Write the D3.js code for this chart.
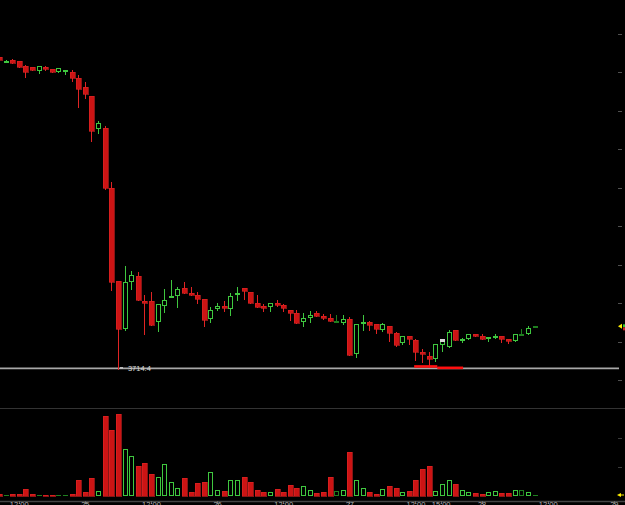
<!DOCTYPE html>
<html><head><meta charset="utf-8">
<script src="https://cdn.jsdelivr.net/npm/d3@7"></script>
<style>html,body{margin:0;padding:0;background:#000;overflow:hidden}</style>
</head><body>
<svg id="c" width="625" height="505" style="display:block;background:#000"></svg>
<script>
// ---- data (index 0..81, one entry per candle) ----
const opens  = [4119.5,4113.4,4116.0,4114.3,4108.2,4106.5,4100.9,4106.9,4103.9,4100.4,4102.3,4100.0,4092.2,4080.9,4068.8,4026.0,4027.7,3949.7,3828.6,3766.2,3826.9,3835.5,3803.0,3802.6,3775.7,3796.5,3808.1,3809.5,3819.5,3813.0,3810.4,3805.2,3779.6,3791.8,3795.7,3791.8,3810.8,3819.5,3814.3,3800.4,3795.5,3794.4,3800.4,3797.8,3790.9,3787.4,3775.7,3780.5,3786.6,3782.5,3780.9,3776.6,3773.6,3779.2,3733.8,3774.4,3775.7,3772.7,3764.5,3770.1,3761.4,3747.7,3757.1,3751.9,3736.8,3731.6,3727.7,3745.5,3743.2,3764.9,3752.1,3753.6,3759.7,3757.5,3755.2,3756.9,3757.1,3753.5,3751.0,3759.5,3759.7,3769.7];
const highs  = [4120.8,4115.2,4117.3,4114.6,4108.5,4107.0,4108.2,4107.2,4104.2,4105.2,4103.2,4102.6,4096.1,4087.0,4069.2,4036.4,4029.9,3957.5,3829.0,3848.7,3841.8,3840.6,3810.4,3814.3,3798.5,3818.2,3830.3,3821.2,3827.3,3821.2,3814.7,3805.6,3795.2,3800.0,3802.6,3813.0,3820.4,3820.0,3814.7,3810.1,3798.3,3800.4,3803.9,3798.2,3791.3,3790.9,3787.4,3790.0,3790.0,3785.3,3785.3,3784.4,3784.0,3781.8,3772.7,3784.4,3776.0,3773.0,3774.4,3770.5,3761.8,3757.5,3757.5,3753.6,3739.9,3736.8,3747.2,3753.6,3764.9,3765.3,3754.9,3760.0,3760.0,3760.1,3756.0,3760.1,3757.5,3753.8,3760.0,3766.6,3770.1,3770.0];
const lows   = [4114.9,4113.0,4111.5,4106.0,4093.1,4102.6,4098.7,4103.2,4100.0,4100.0,4097.8,4088.7,4054.9,4065.8,4010.8,4020.4,3948.1,3816.9,3714.4,3765.3,3818.6,3803.5,3759.7,3771.0,3764.0,3787.9,3807.5,3795.2,3812.6,3810.4,3800.4,3770.5,3775.7,3791.4,3790.0,3784.4,3803.9,3805.2,3800.0,3794.8,3789.2,3790.0,3796.6,3790.0,3777.9,3774.0,3770.1,3775.7,3782.7,3779.2,3776.2,3776.0,3773.2,3732.5,3730.3,3764.9,3764.9,3761.4,3764.1,3751.0,3744.2,3747.3,3746.8,3726.0,3723.8,3717.3,3725.1,3737.7,3742.8,3751.5,3749.7,3753.2,3756.8,3753.2,3751.0,3754.9,3749.7,3748.4,3750.6,3758.4,3759.3,3769.4];
const closes = [4115.6,4113.8,4111.7,4106.5,4100.4,4103.0,4107.8,4103.5,4100.4,4104.8,4102.8,4092.2,4077.9,4071.4,4023.8,4034.2,3949.0,3827.7,3766.2,3827.7,3836.0,3803.9,3802.6,3771.4,3798.1,3803.9,3808.7,3818.2,3813.0,3810.8,3804.8,3777.9,3790.9,3796.1,3795.2,3809.1,3812.6,3815.2,3800.4,3795.2,3795.0,3800.0,3797.0,3793.5,3786.6,3774.4,3780.9,3784.8,3783.1,3782.0,3776.6,3776.6,3779.2,3732.9,3772.3,3774.9,3771.4,3766.2,3772.3,3761.4,3745.5,3757.1,3752.9,3736.8,3733.8,3727.3,3746.8,3753.2,3762.7,3751.9,3752.6,3759.7,3757.1,3753.6,3755.7,3757.4,3753.2,3753.0,3759.7,3759.5,3767.5,3769.7];
const volumes = [69,34,52,79,241,69,34,34,34,34,34,79,552,138,621,172,2759,2276,2828,1621,1379,1034,1138,759,655,1103,483,276,621,155,448,483,828,190,172,552,552,655,483,207,138,138,241,138,379,276,345,217,103,138,655,172,207,1517,552,276,138,69,241,345,276,138,172,552,931,1034,172,414,552,414,207,138,103,69,128,172,103,103,207,217,138,34];
const priceTicks = [3700,3750,3800,3850,3900,3950,4000,4050,4100,4150];
const volumeTicks = [1000,2000];
const timeTickIndex = [3,13,23,33,43,53,63,66.8,73,83,93];
const timeLabels = ["12:00","25","12:00","26","12:00","27","12:00","15:00","28","12:00","29"];
const lowPrice = 3714.4;
const lowIndex = 18;
const markIndex = 67;
const zoneA = {from:62.8, to:66.3, price:3717.6};
const zoneB = {from:66.3, to:70.2, price:3715.8};

// ---- drawing ----
const svg = d3.select('#c');
const x = d3.scaleLinear().domain([1, 81]).range([5.5, 534.5]);
const y = d3.scaleLinear().domain([3700, 4150]).range([380, 33.5]);
const yv = d3.scaleLinear().domain([0, 3000]).range([496, 409]);

const RED = '#cc1414', RED_S = '#e02424', GREEN = '#3fc73f', DKGREEN = '#1f7f1f';
const data = opens.map((o,i)=>({i, o, h:highs[i], l:lows[i], c:closes[i], v:volumes[i]}));
const kind = d => d.c > d.o ? 'up' : (d.c < d.o ? 'down' : 'flat');
const col = d => kind(d)==='down' ? RED_S : (kind(d)==='up' ? GREEN : DKGREEN);

// panel lines
svg.append('line').attr('x1',0).attr('x2',625).attr('y1',408.5).attr('y2',408.5).attr('stroke','#333').attr('stroke-width',1);
svg.append('line').attr('x1',0).attr('x2',625).attr('y1',501.5).attr('y2',501.5).attr('stroke','#454545').attr('stroke-width',1.5);

// right price axis: tick marks only (labels lie beyond the window in the original)
const ay = svg.append('g').attr('transform','translate(618,0)')
  .call(d3.axisRight(y).tickValues(priceTicks).tickSize(4).tickFormat(''));
ay.select('.domain').remove();
ay.selectAll('line').attr('stroke','#505050').attr('shape-rendering','crispEdges');
const av = svg.append('g').attr('transform','translate(618,0)')
  .call(d3.axisRight(yv).tickValues(volumeTicks).tickSize(4).tickFormat(''));
av.select('.domain').remove();
av.selectAll('line').attr('stroke','#3a3a3a').attr('shape-rendering','crispEdges');

// bottom time axis
const ax = svg.append('g').attr('transform','translate(0,501)')
  .call(d3.axisBottom(x).tickValues(timeTickIndex).tickFormat((d,i)=>timeLabels[i]).tickSizeInner(3).tickSizeOuter(0).tickPadding(-2));
ax.select('.domain').remove();
ax.selectAll('line').attr('stroke','#666').attr('shape-rendering','crispEdges');
ax.selectAll('text').attr('fill','#b0b0b0').style('font','7.5px "Liberation Sans",Arial');

// low line
svg.append('line').attr('x1',0).attr('x2',619).attr('y1',y(lowPrice)-0.5).attr('y2',y(lowPrice)-0.5)
  .attr('stroke','#a8a8a8').attr('stroke-width',1.6);

const g = svg.append('g').attr('shape-rendering','crispEdges');
const cx = d => Math.round(x(d.i));

// wicks
g.selectAll('line.wick').data(data).join('line').attr('class','wick')
  .attr('x1',d=>cx(d)+0.5).attr('x2',d=>cx(d)+0.5)
  .attr('y1',d=>Math.round(y(d.h))).attr('y2',d=>Math.round(y(d.l))+1)
  .attr('stroke',d=>col(d)).attr('stroke-width',1);

// bodies
data.forEach(d=>{
  const t = Math.round(y(Math.max(d.o,d.c)));
  let b = Math.round(y(Math.min(d.o,d.c)));
  if (b - t < 1) b = t + 1;
  const h = b - t;
  const k = kind(d);
  if (k==='down') {
    g.append('rect').attr('x',cx(d)-2).attr('y',t).attr('width',5).attr('height',Math.max(h,2))
      .attr('fill',RED).attr('stroke',RED_S).attr('stroke-width',0.6);
  } else if (h >= 3) {
    g.append('rect').attr('x',cx(d)-1.5).attr('y',t+0.5).attr('width',4).attr('height',h-1)
      .attr('fill','#000').attr('stroke',col(d)).attr('stroke-width',1);
  } else {
    g.append('rect').attr('x',cx(d)-2).attr('y',t).attr('width',5).attr('height',Math.max(h,1.5))
      .attr('fill',col(d));
  }
});

// volume bars
data.forEach(d=>{
  const t = Math.round(yv(d.v));
  const h = Math.max(496 - t, 1);
  const k = kind(d);
  if (k==='down') {
    g.append('rect').attr('x',cx(d)-2).attr('y',496-h).attr('width',5).attr('height',h)
      .attr('fill',RED).attr('stroke',RED_S).attr('stroke-width',0.6);
  } else if (h >= 3) {
    g.append('rect').attr('x',cx(d)-1.5).attr('y',496-h+0.5).attr('width',4).attr('height',h-1)
      .attr('fill','#000').attr('stroke',col(d)).attr('stroke-width',1);
  } else {
    g.append('rect').attr('x',cx(d)-2).attr('y',496-h).attr('width',5).attr('height',h).attr('fill',DKGREEN);
  }
});

// marker on candle
const md = data[markIndex];
g.append('rect').attr('x',cx(md)-2).attr('y',Math.round(y(md.c))).attr('width',5).attr('height',3).attr('fill','#d8d8d8');

// red zone annotation
[zoneA, zoneB].forEach(z=>{
  svg.append('line').attr('x1',x(z.from)).attr('x2',x(z.to)).attr('y1',y(z.price)).attr('y2',y(z.price))
    .attr('stroke','#ff1010').attr('stroke-width',2.6);
});

// low label
const lx = x(lowIndex);
svg.append('rect').attr('x',Math.round(lx)+2).attr('y',Math.round(y(lowPrice))-2).attr('width',3).attr('height',2).attr('fill','#bbb');
svg.append('text').attr('x',lx+10).attr('y',y(lowPrice)+2).attr('fill','#d8d8d8')
  .style('font','7.5px "Liberation Sans",Arial').text(lowPrice.toFixed(1));

// last price / last volume markers
const last = data[data.length-1];
const ly = y(last.c);
svg.append('path').attr('d',`M618,${ly} L622,${ly-2.5} L622,${ly+2.5} Z`).attr('fill','#ffee00');
svg.append('rect').attr('x',623).attr('y',ly-2).attr('width',2).attr('height',3).attr('fill','#33cc33');
svg.append('rect').attr('x',623).attr('y',ly+1).attr('width',2).attr('height',3).attr('fill','#cc2020');
const lvy = yv(last.v);
svg.append('path').attr('d',`M617,${lvy} L621,${lvy-2} L621,${lvy+2} Z`).attr('fill','#ffee00');
svg.append('line').attr('x1',619).attr('x2',624).attr('y1',lvy).attr('y2',lvy).attr('stroke','#ffee00').attr('stroke-width',1);
</script>
</body></html>
